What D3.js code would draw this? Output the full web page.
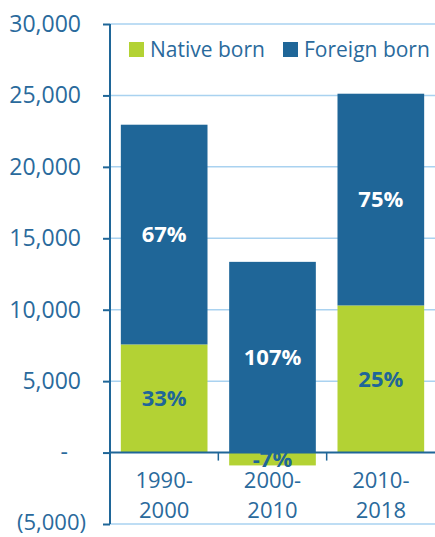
<!DOCTYPE html>
<html>
<head>
<meta charset="utf-8">
<script src="https://cdn.jsdelivr.net/npm/d3@7"></script>
<style>
	body { margin: 0; background: #fff; }
	svg { display: block; font-family: "Open Sans", sans-serif; }
</style>
</head>
<body>
<svg id="chart" width="435" height="537"></svg>
<script>
// data
var categories = ["1990-2000", "2000-2010", "2010-2018"];
var categoryLines = [["1990-", "2000"], ["2000-", "2010"], ["2010-", "2018"]];
var nativeBorn = [7570, -900, 10300];
var foreignBorn = [15380, 13350, 14820];
var nativeLabels = ["33%", "-7%", "25%"];
var foreignLabels = ["67%", "107%", "75%"];
var tickValues = [30000, 25000, 20000, 15000, 10000, 5000, 0, -5000];
var tickLabels = ["30,000", "25,000", "20,000", "15,000", "10,000", "5,000", "-", "(5,000)"];
var seriesNames = ["Native born", "Foreign born"];

var BLUE = "#1f6698", GREEN = "#b3d234", TEXT = "#2a6a9c", GRID = "#a9d2f0";

var svg = d3.select("#chart");
var margin = {top: 24, right: 0, bottom: 13, left: 110},
	width = 435 - margin.left - margin.right,
	height = 537 - margin.top - margin.bottom;

var g = svg.append("g").attr("transform", "translate(" + margin.left + "," + margin.top + ")");

var x = d3.scaleBand()
	.domain(categories)
	.range([0, width])
	.paddingInner(0.2)
	.paddingOuter(0.1);

var y = d3.scaleLinear()
	.domain([-5000, 30000])
	.range([height, 0]);

var rows = categories.map(function(c, i){
	return {cat: c, native: nativeBorn[i], foreign: foreignBorn[i], i: i};
});

var stacked = d3.stack()
	.keys(["native", "foreign"])
	.offset(d3.stackOffsetDiverging)(rows);

// gridlines
g.append("g")
	.selectAll("line")
	.data(tickValues.filter(function(d){ return d !== 0; }))
	.join("line")
	.attr("x1", 0).attr("x2", width)
	.attr("y1", function(d){ return y(d); })
	.attr("y2", function(d){ return y(d); })
	.attr("stroke", GRID)
	.attr("stroke-width", 1.5);

var colors = [GREEN, BLUE];
var labels = [nativeLabels, foreignLabels];
var labelColors = [BLUE, "#fff"];

stacked.forEach(function(layer, k){
	g.append("g")
		.selectAll("rect")
		.data(layer)
		.join("rect")
		.attr("x", function(d){ return x(d.data.cat); })
		.attr("width", x.bandwidth())
		.attr("y", function(d){ return y(Math.max(d[0], d[1])); })
		.attr("height", function(d){ return Math.abs(y(d[0]) - y(d[1])); })
		.attr("fill", colors[k]);

	g.append("g")
		.selectAll("text")
		.data(layer)
		.join("text")
		.attr("x", function(d){ return x(d.data.cat) + x.bandwidth() / 2; })
		.attr("y", function(d){ return (y(d[0]) + y(d[1])) / 2; })
		.attr("dy", "0.36em")
		.attr("text-anchor", "middle")
		.attr("font-size", 22)
		.attr("font-weight", "bold")
		.attr("fill", labelColors[k])
		.text(function(d){ return labels[k][d.data.i]; });
});

// y axis
var yAxis = g.append("g")
	.call(d3.axisLeft(y)
		.tickValues(tickValues)
		.tickSize(7)
		.tickPadding(22)
		.tickFormat(function(d, i){ return tickLabels[i]; }));
yAxis.select(".domain").attr("stroke", BLUE).attr("stroke-width", 2).attr("d", "M0," + y(-5000) + "V" + y(30000));
yAxis.selectAll(".tick line").attr("stroke", BLUE).attr("stroke-width", 2);
yAxis.selectAll(".tick text")
	.attr("fill", TEXT)
	.attr("font-size", function(d){ return d < 0 ? 22 : 23; })
	.attr("font-family", "Open Sans, sans-serif")
	.attr("dy", function(d){ return d < 0 ? "0.26em" : "0.32em"; })
	.attr("dx", function(d){ return d === 0 ? -13 : (d < 0 ? 5 : 0); });

// zero line and category ticks
g.append("line")
	.attr("x1", 0).attr("x2", width)
	.attr("y1", y(0)).attr("y2", y(0))
	.attr("stroke", BLUE)
	.attr("stroke-width", 2);

var step = x.step();
g.append("g")
	.selectAll("line")
	.data(categories.slice(1))
	.join("line")
	.attr("x1", function(d){ return x(d) - step * x.paddingInner() / 2; })
	.attr("x2", function(d){ return x(d) - step * x.paddingInner() / 2; })
	.attr("y1", y(0)).attr("y2", y(0) + 8)
	.attr("stroke", BLUE)
	.attr("stroke-width", 1.5);

// category labels
var catText = g.append("g")
	.selectAll("text")
	.data(categories)
	.join("text")
	.attr("text-anchor", "middle")
	.attr("font-size", 22)
	.attr("fill", TEXT);
catText.each(function(d, i){
	var t = d3.select(this);
	categoryLines[i].forEach(function(line, j){
		t.append("tspan")
			.attr("x", x(d) + x.bandwidth() / 2)
			.attr("y", y(0) + 35 + j * 30)
			.text(line);
	});
});

// legend
var legendX = [19, 173];
var legend = g.append("g")
	.selectAll("g")
	.data(seriesNames)
	.join("g")
	.attr("transform", function(d, i){ return "translate(" + legendX[i] + ",18)"; });
legend.append("rect")
	.attr("width", 15).attr("height", 15)
	.attr("fill", function(d, i){ return colors[i]; });
legend.append("text")
	.attr("x", 21)
	.attr("y", 7.5)
	.attr("dy", "0.36em")
	.attr("font-size", 21)
	.attr("fill", TEXT)
	.text(function(d){ return d; });
</script>
</body>
</html>
